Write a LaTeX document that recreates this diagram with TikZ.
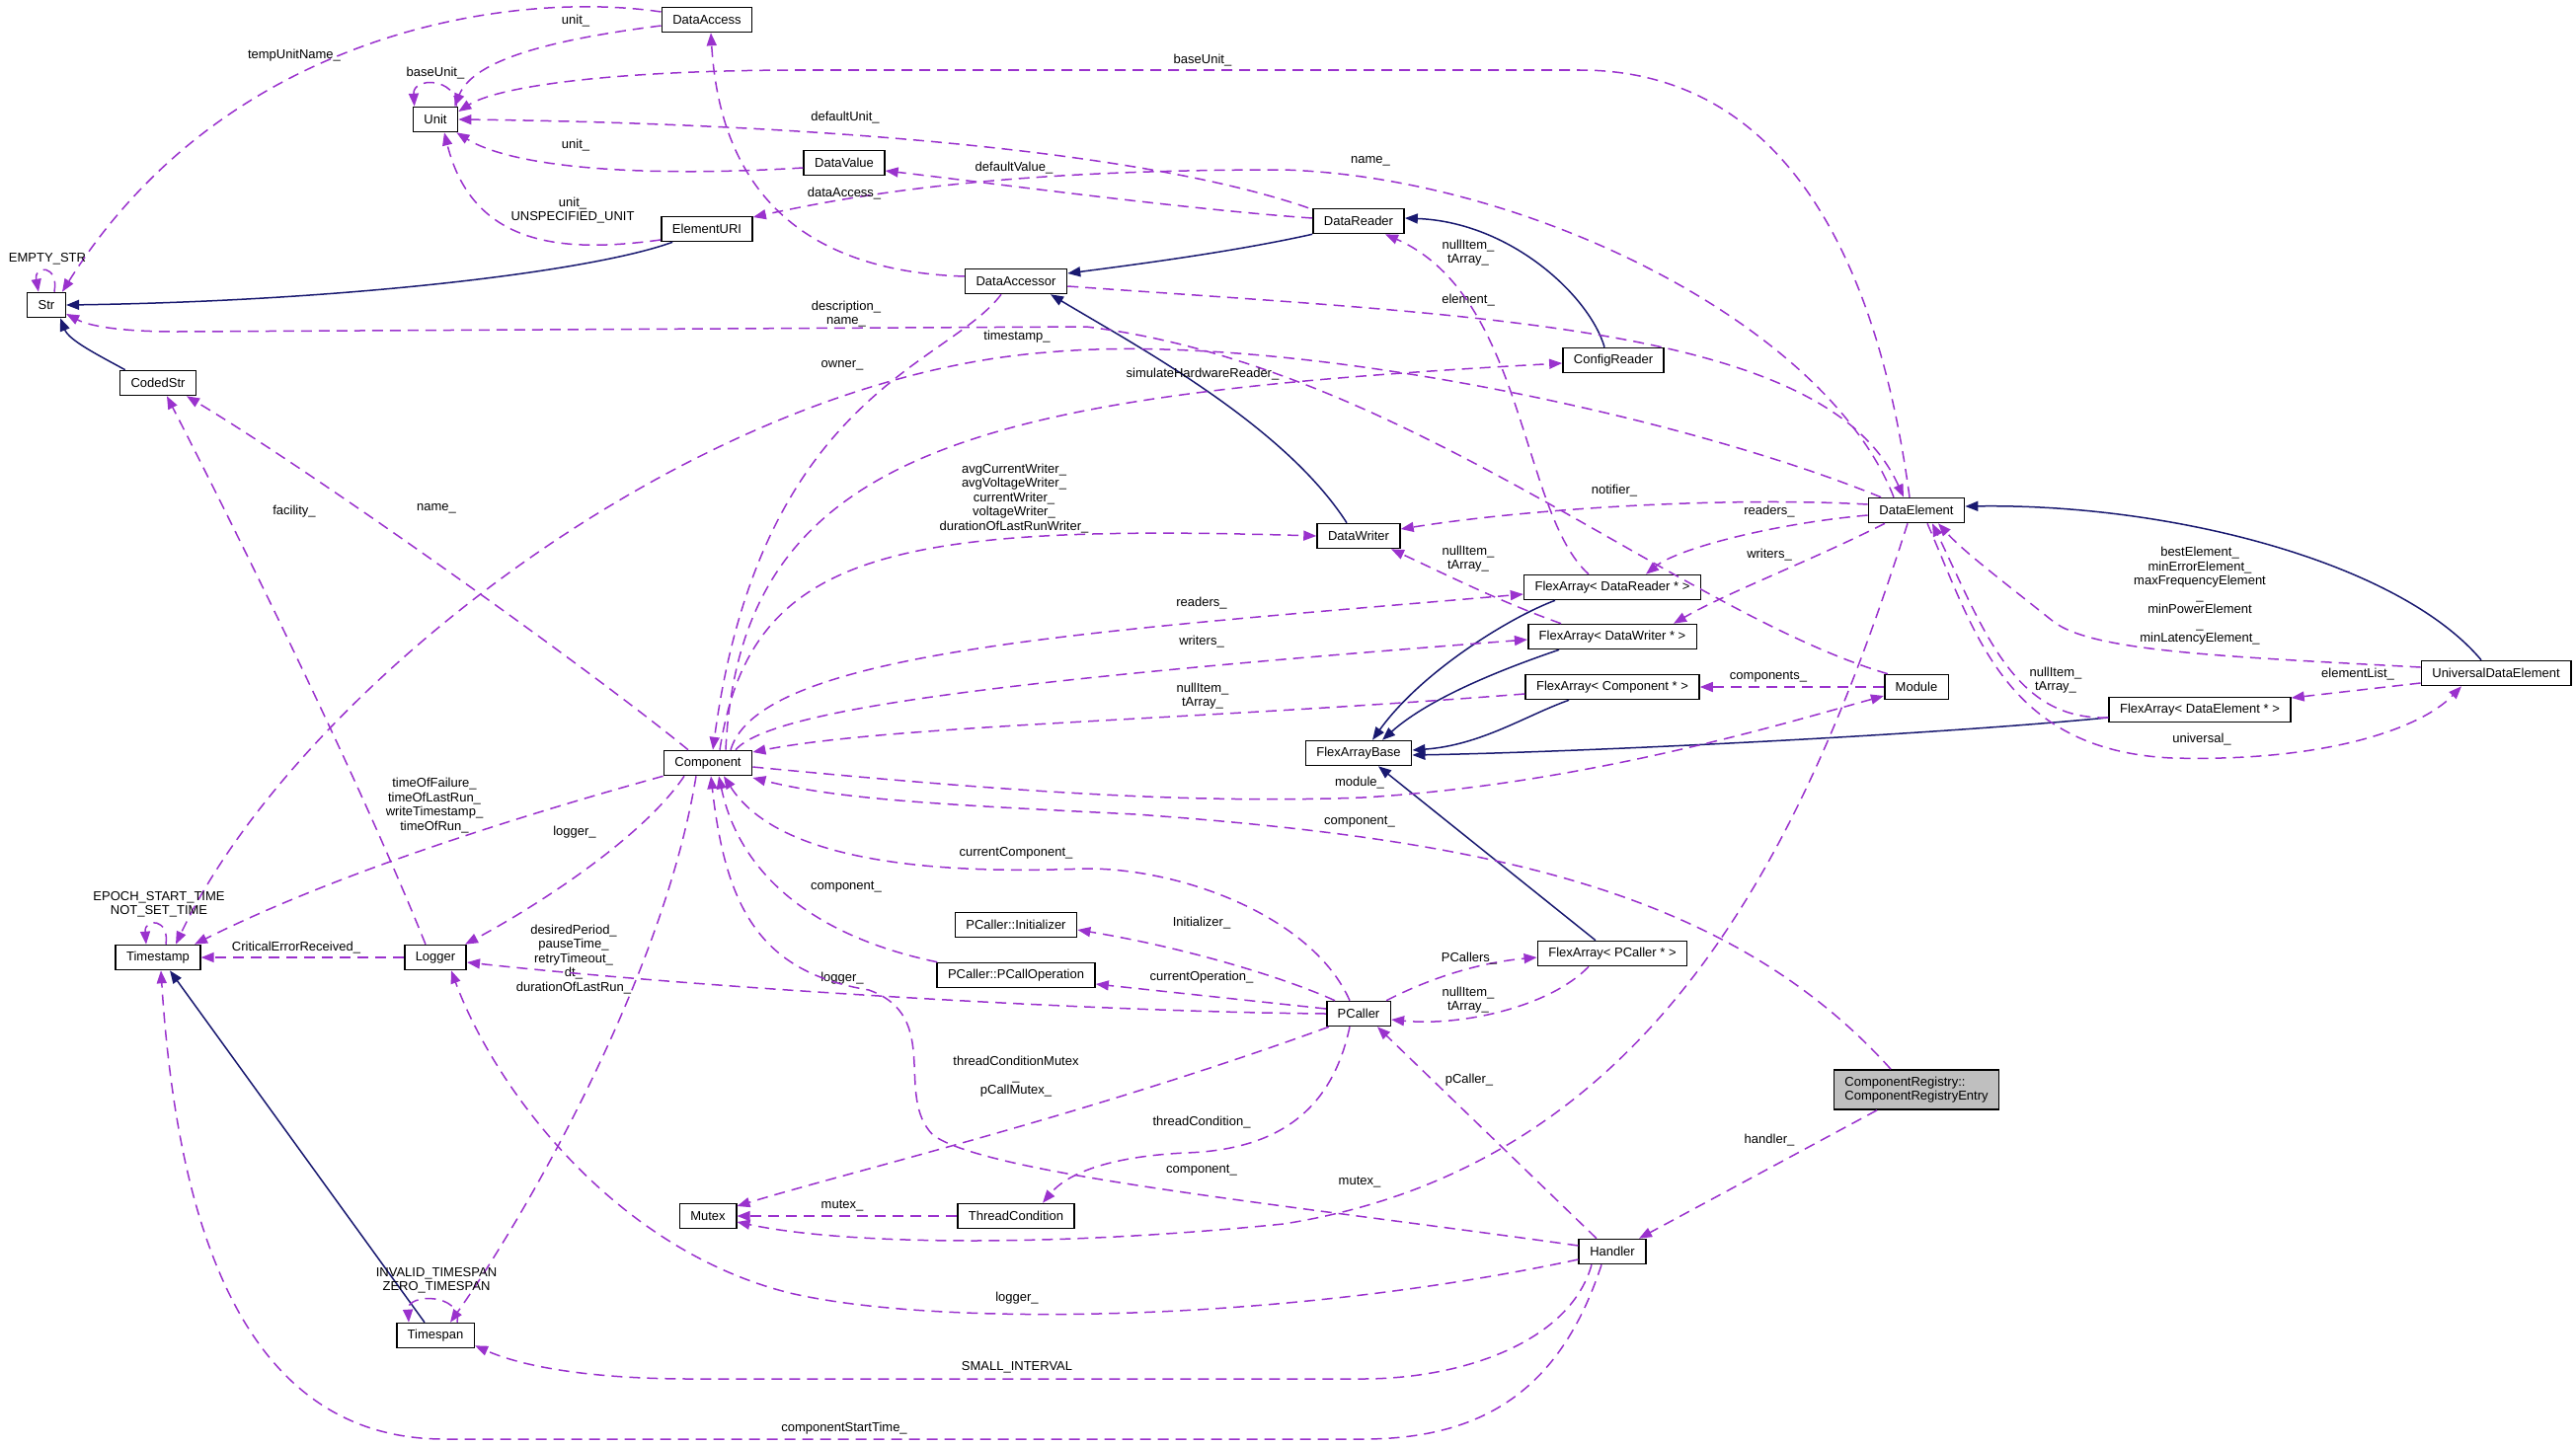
\documentclass[tikz,border=0pt]{standalone}
\usepackage{fontspec}
\setmainfont{Liberation Sans}
\usetikzlibrary{arrows.meta}
\definecolor{memberpurple}{HTML}{9A32CD}
\definecolor{basenavy}{HTML}{191970}
\definecolor{focusgray}{HTML}{BFBFBF}
\tikzset{
    %Define standard arrow tip
    >={Triangle[length=13pt,width=10pt]},
    %Define style for class boxes
    klasse/.style={
           rectangle,
           draw=black, line width=1.6pt,
           minimum height=25pt,
           inner xsep=11pt,
           font=\fontsize{13}{14.5}\selectfont},
    %Define style for the documented class
    focus/.style={
           klasse,
           fill=focusgray,
           align=left,
           minimum height=40pt},
    % Define arrow style for members
    member/.style={
           ->,
           draw=memberpurple,
           line width=1.5pt,
           dash pattern=on 11pt off 7pt},
    % Define arrow style for base classes
    basis/.style={
           ->,
           draw=basenavy,
           line width=1.5pt},
    % Define style for edge labels
    lbl/.style={
           font=\fontsize{13}{14.5}\selectfont,
           align=center,
           inner sep=0pt}
}
\begin{document}
\begin{tikzpicture}[x=1pt, y=-1pt]
		\useasboundingbox (0,0) rectangle (2609,1464);
		\node[klasse] (dataaccess) at (716,20) {DataAccess};
		\node[klasse] (unit) at (441,121) {Unit};
		\node[klasse] (datavalue) at (855,165) {DataValue};
		\node[klasse] (elementuri) at (716,232) {ElementURI};
		\node[klasse] (str) at (47,309) {Str};
		\node[klasse] (codedstr) at (160,388) {CodedStr};
		\node[klasse] (datareader) at (1376,224) {DataReader};
		\node[klasse] (dataaccessor) at (1029,285) {DataAccessor};
		\node[klasse] (configreader) at (1634,365) {ConfigReader};
		\node[klasse] (dataelement) at (1941,517) {DataElement};
		\node[klasse] (datawriter) at (1376,543) {DataWriter};
		\node[klasse] (fareader) at (1633,595) {FlexArray< DataReader * >};
		\node[klasse] (fawriter) at (1633,645) {FlexArray< DataWriter * >};
		\node[klasse] (facomponent) at (1633,696) {FlexArray< Component * >};
		\node[klasse] (module) at (1941,696) {Module};
		\node[klasse] (universal) at (2528,682) {UniversalDataElement};
		\node[klasse] (faelement) at (2228,719) {FlexArray< DataElement * >};
		\node[klasse] (flexbase) at (1376,763) {FlexArrayBase};
		\node[klasse] (component) at (717,773) {Component};
		\node[klasse] (initializer) at (1029,937) {PCaller::Initializer};
		\node[klasse] (fapcaller) at (1633,966) {FlexArray< PCaller * >};
		\node[klasse] (timestamp) at (160,970) {Timestamp};
		\node[klasse] (logger) at (441,970) {Logger};
		\node[klasse] (pcalloperation) at (1029,988) {PCaller::PCallOperation};
		\node[klasse] (pcaller) at (1376,1027) {PCaller};
		\node[focus] (registryentry) at (1941,1104) {ComponentRegistry::\\ComponentRegistryEntry};
		\node[klasse] (mutex) at (717,1232) {Mutex};
		\node[klasse] (threadcondition) at (1029,1232) {ThreadCondition};
		\node[klasse] (handler) at (1633,1268) {Handler};
		\node[klasse] (timespan) at (441,1353) {Timespan};
		% base classes
		\draw[basis] ([xshift=12pt]elementuri.south west) .. controls (600,275) and (350,305) .. (str.east);
		\draw[basis] ([xshift=6pt]codedstr.north west) .. controls (100,360) and (70,345) .. ([xshift=14pt]str.south);
		\draw[basis] (datareader.south west) .. controls (1250,255) and (1150,268) .. ([yshift=8pt]dataaccessor.east);
		\draw[basis] ([xshift=-9pt]configreader.north) .. controls (1610,300) and (1530,225) .. ([yshift=3pt]datareader.east);
		\draw[basis] ([xshift=-12pt]datawriter.north) .. controls (1300,430) and (1150,350) .. ([xshift=35pt]dataaccessor.south);
		\draw[basis] ([xshift=-58pt]fareader.south) .. controls (1530,625) and (1440,680) .. ([xshift=14pt]flexbase.north);
		\draw[basis] ([xshift=-54pt]fawriter.south) .. controls (1530,675) and (1450,705) .. ([xshift=24pt]flexbase.north);
		\draw[basis] ([xshift=-44pt]facomponent.south) .. controls (1545,725) and (1500,755) .. ([yshift=3pt]flexbase.east);
		\draw[basis] ([yshift=-8pt]faelement.west) .. controls (1950,745) and (1600,762) .. ([yshift=-2pt]flexbase.east);
		\draw[basis] ([xshift=-17pt]fapcaller.north) -- ([xshift=20pt]flexbase.south);
		\draw[basis] ([xshift=-15pt]universal.north) .. controls (2430,570) and (2200,510) .. ([yshift=4pt]dataelement.east);
		\draw[basis] ([xshift=-11pt]timespan.north) -- ([xshift=12pt]timestamp.south);
		% members, upper left
		\draw[member] ([yshift=8pt]dataaccess.west) .. controls (520,-10) and (230,30) .. ([xshift=16pt]str.north) node[lbl] at (298,56) {tempUnitName\_};
		\draw[member] ([yshift=-6pt]dataaccess.west) .. controls (560,40) and (480,60) .. ([xshift=-4pt]unit.north east) node[lbl] at (583,21) {unit\_};
		\draw[member] ([xshift=-2pt]unit.north east) .. controls (462,78) and (418,78) .. ([xshift=2pt]unit.north west) node[lbl] at (441,74) {baseUnit\_};
		\draw[member] ([xshift=-7pt]dataelement.north) .. controls (1900,250) and (1800,71) .. (1600,71) -- (800,71) .. controls (600,72) and (500,90) .. ([yshift=8pt]unit.east) node[lbl] at (1218,61) {baseUnit\_};
		\draw[member] ([xshift=-4pt]datareader.north west) .. controls (1150,150) and (800,125) .. (unit.east) node[lbl] at (856,119) {defaultUnit\_};
		\draw[member] ([yshift=-5pt]datavalue.west) .. controls (650,180) and (520,170) .. ([xshift=-2pt]unit.south east) node[lbl] at (583,147) {unit\_};
		\draw[member] ([yshift=-11pt]elementuri.west) .. controls (580,255) and (480,255) .. ([xshift=9pt]unit.south) node[lbl] at (580,213) {unit\_\\UNSPECIFIED\_UNIT};
		\draw[member] ([xshift=8pt]str.north) .. controls (60,268) and (34,268) .. ([xshift=-8pt]str.north) node[lbl] at (48,262) {EMPTY\_STR};
		\draw[member] ([xshift=-23pt]dataelement.north) .. controls (1850,330) and (1550,180) .. (1300,172) .. controls (1050,172) and (900,190) .. ([yshift=12pt]elementuri.east) node[lbl] at (1388,163) {name\_};
		\draw[member] ([yshift=3pt]datareader.west) .. controls (1200,212) and (1000,185) .. ([yshift=-8pt]datavalue.east) node[lbl] at (1027,170) {defaultValue\_};
		\draw[member] ([yshift=5pt]dataaccessor.west) .. controls (820,275) and (730,200) .. ([xshift=4pt]dataaccess.south) node[lbl] at (855,196) {dataAccess\_};
		\draw[member] ([yshift=-5pt]dataaccessor.east) .. controls (1500,320) and (1850,330) .. ([xshift=-13pt]dataelement.north) node[lbl] at (1487,304) {element\_};
		\draw[member] ([xshift=4pt]module.north west) .. controls (1700,620) and (1420,370) .. (1100,331) -- (180,336) .. controls (120,336) and (90,330) .. ([yshift=-9pt]str.east) node[lbl] at (857,318) {description\_\\name\_};
		\draw[member] ([xshift=-36pt]dataelement.north) .. controls (1700,420) and (1300,335) .. (1060,357) .. controls (700,385) and (300,700) .. ([xshift=18pt]timestamp.north) node[lbl] at (1030,341) {timestamp\_};
		% members around Component
		\draw[member] ([xshift=-15pt]dataaccessor.south) .. controls (960,370) and (770,400) .. ([xshift=5pt]component.north) node[lbl] at (853,370) {owner\_};
		\draw[member] ([xshift=18pt]component.north) .. controls (750,450) and (1000,400) .. ([yshift=-3pt]configreader.west) node[lbl] at (1218,379) {simulateHardwareReader\_};
		\draw[member] ([xshift=12pt]component.north) .. controls (760,560) and (900,530) .. (datawriter.west) node[lbl] at (1027,505) {avgCurrentWriter\_\\avgVoltageWriter\_\\currentWriter\_\\voltageWriter\_\\durationOfLastRunWriter\_};
		\draw[member] ([xshift=23pt]component.north) .. controls (770,660) and (1100,640) .. ([yshift=-7pt]fareader.west) node[lbl] at (1217,611) {readers\_};
		\draw[member] ([xshift=28pt]component.north) .. controls (780,720) and (1000,690) .. ([yshift=-3pt]fawriter.west) node[lbl] at (1217,650) {writers\_};
		\draw[member] ([yshift=-7pt]facomponent.west) .. controls (1200,730) and (900,735) .. ([yshift=11pt]component.east) node[lbl] at (1218,705) {nullItem\_\\tArray\_};
		\draw[member] ([yshift=-4pt]component.east) .. controls (1000,800) and (1200,815) .. (1380,808) .. controls (1600,795) and (1800,735) .. ([yshift=-9pt]module.west) node[lbl] at (1377,793) {module\_};
		\draw[member] (module.west) -- (facomponent.east) node[lbl] at (1791,686) {components\_};
		\draw[member] ([xshift=-26pt]registryentry.north) .. controls (1750,900) and (1500,850) .. (1150,825) .. controls (950,815) and (850,810) .. ([yshift=-15pt]component.east) node[lbl] at (1377,833) {component\_};
		\draw[member] ([xshift=-40pt]registryentry.south) -- ([xshift=27pt]handler.north) node[lbl] at (1792,1155) {handler\_};
		\draw[member] (component.south west) .. controls (550,820) and (350,880) .. ([xshift=37pt]timestamp.north) node[lbl] at (440,816) {timeOfFailure\_\\timeOfLastRun\_\\writeTimestamp\_\\timeOfRun\_};
		\draw[member] ([xshift=-24pt]component.south) .. controls (650,850) and (540,920) .. ([xshift=-2pt]logger.north east) node[lbl] at (582,843) {logger\_};
		\draw[member] ([xshift=-12pt]component.south) .. controls (670,1000) and (520,1250) .. ([xshift=15pt]timespan.north) node[lbl] at (581,972) {desiredPeriod\_\\pauseTime\_\\retryTimeout\_\\dt\_\\durationOfLastRun\_};
		\draw[member] ([xshift=22pt]timespan.north) .. controls (468,1310) and (412,1310) .. ([xshift=-27pt]timespan.north) node[lbl] at (442,1297) {INVALID\_TIMESPAN\\ZERO\_TIMESPAN};
		\draw[member] ([xshift=8pt]timestamp.north) .. controls (172,930) and (146,930) .. ([xshift=-12pt]timestamp.north) node[lbl] at (161,916) {EPOCH\_START\_TIME\\NOT\_SET\_TIME};
		\draw[member] (logger.west) -- (timestamp.east) node[lbl] at (300,960) {CriticalErrorReceived\_};
		\draw[member] ([xshift=-10pt]logger.north) .. controls (360,780) and (230,520) .. ([xshift=9pt]codedstr.south) node[lbl] at (298,518) {facility\_};
		\draw[member] ([xshift=-20pt]component.north) .. controls (600,680) and (320,480) .. ([xshift=29pt]codedstr.south) node[lbl] at (442,515) {name\_};
		% members around PCaller
		\draw[member] ([xshift=-9pt]pcaller.north) .. controls (1330,930) and (1200,880) .. (1100,880) .. controls (900,888) and (780,860) .. ([xshift=16pt]component.south) node[lbl] at (1029,864) {currentComponent\_};
		\draw[member] ([xshift=1pt]pcalloperation.north west) .. controls (830,950) and (750,890) .. ([xshift=11pt]component.south) node[lbl] at (857,899) {component\_};
		\draw[member] ([xshift=-24pt]pcaller.north) .. controls (1300,990) and (1200,960) .. ([yshift=-5pt]initializer.east) node[lbl] at (1217,935) {Initializer\_};
		\draw[member] ([yshift=5pt]pcaller.west) -- ([yshift=-9pt]pcalloperation.east) node[lbl] at (1217,990) {currentOperation\_};
		\draw[member] (pcaller.west) .. controls (1100,1025) and (700,1000) .. ([yshift=-5pt]logger.east) node[lbl] at (853,991) {logger\_};
		\draw[member] ([xshift=-5pt]pcaller.north east) .. controls (1450,990) and (1500,975) .. ([yshift=-4pt]fapcaller.west) node[lbl] at (1488,971) {PCallers\_};
		\draw[member] ([xshift=-24pt]fapcaller.south) .. controls (1570,1020) and (1480,1040) .. ([yshift=-6pt]pcaller.east) node[lbl] at (1487,1013) {nullItem\_\\tArray\_};
		\draw[member] ([xshift=3pt]pcaller.south west) .. controls (1100,1130) and (850,1190) .. ([yshift=10pt]mutex.east) node[lbl] at (1029,1091) {threadConditionMutex\\\_\\pCallMutex\_};
		\draw[member] ([xshift=-9pt]pcaller.south) .. controls (1350,1120) and (1300,1165) .. (1200,1168) .. controls (1120,1172) and (1080,1190) .. ([xshift=27pt]threadcondition.north) node[lbl] at (1217,1137) {threadCondition\_};
		\draw[member] (threadcondition.west) -- (mutex.east) node[lbl] at (853,1222) {mutex\_};
		% members around Handler
		\draw[member] ([xshift=-16pt]handler.north) -- ([xshift=19pt]pcaller.south) node[lbl] at (1488,1094) {pCaller\_};
		\draw[member] ([yshift=6pt]handler.west) .. controls (1300,1220) and (1000,1190) .. (945,1150) .. controls (905,1110) and (955,1030) .. (880,1003) .. controls (770,985) and (735,920) .. ([xshift=3pt]component.south) node[lbl] at (1217,1186) {component\_};
		\draw[member] ([yshift=-8pt]handler.west) .. controls (1300,1340) and (950,1345) .. (800,1310) .. controls (620,1265) and (500,1100) .. ([xshift=16pt]logger.south) node[lbl] at (1030,1315) {logger\_};
		\draw[member] ([xshift=-21pt]handler.south) .. controls (1590,1360) and (1480,1397) .. (1380,1397) -- (700,1397) .. controls (600,1397) and (530,1385) .. ([yshift=3pt]timespan.south east) node[lbl] at (1030,1385) {SMALL\_INTERVAL};
		\draw[member] ([xshift=-11pt]handler.south) .. controls (1580,1410) and (1500,1458) .. (1380,1458) -- (450,1458) .. controls (250,1458) and (180,1250) .. ([xshift=3pt]timestamp.south) node[lbl] at (855,1447) {componentStartTime\_};
		% members around DataElement
		\draw[member] ([xshift=-9pt]dataelement.south) .. controls (1830,850) and (1680,1180) .. (1300,1240) .. controls (1050,1265) and (850,1260) .. ([yshift=-6pt]mutex.east) node[lbl] at (1377,1198) {mutex\_};
		\draw[member] ([yshift=6pt]dataelement.west) .. controls (1750,503) and (1550,515) .. ([yshift=7pt]datawriter.east) node[lbl] at (1635,497) {notifier\_};
		\draw[member] ([yshift=-5pt]dataelement.west) .. controls (1800,530) and (1700,555) .. ([xshift=34pt]fareader.north) node[lbl] at (1792,518) {readers\_};
		\draw[member] ([xshift=-32pt]dataelement.south) .. controls (1830,570) and (1750,600) .. ([xshift=62pt]fawriter.north) node[lbl] at (1792,562) {writers\_};
		\draw[member] ([xshift=-24pt]fareader.north) .. controls (1540,520) and (1545,300) .. ([xshift=27pt]datareader.south) node[lbl] at (1487,256) {nullItem\_\\tArray\_};
		\draw[member] ([xshift=-52pt]fawriter.north) .. controls (1520,610) and (1460,580) .. ([xshift=33pt]datawriter.south) node[lbl] at (1487,566) {nullItem\_\\tArray\_};
		\draw[member] ([yshift=-8pt]faelement.west) .. controls (2040,730) and (2010,640) .. ([xshift=16pt]dataelement.south) node[lbl] at (2082,689) {nullItem\_\\tArray\_};
		\draw[member] ([yshift=6pt]universal.west) .. controls (2250,665) and (2120,660) .. (2080,630) .. controls (2030,590) and (1990,560) .. ([xshift=22pt]dataelement.south) node[lbl] at (2228,604) {bestElement\_\\minErrorElement\_\\maxFrequencyElement\\\_\\minPowerElement\\\_\\minLatencyElement\_};
		\draw[member] ([yshift=-10pt]universal.west) -- ([yshift=12pt]faelement.east) node[lbl] at (2388,683) {elementList\_};
		\draw[member] ([xshift=11pt]dataelement.south) .. controls (2000,640) and (2030,760) .. (2200,768) .. controls (2350,772) and (2450,740) .. ([xshift=-35pt]universal.south) node[lbl] at (2230,749) {universal\_};
	\end{tikzpicture}
\end{document}
